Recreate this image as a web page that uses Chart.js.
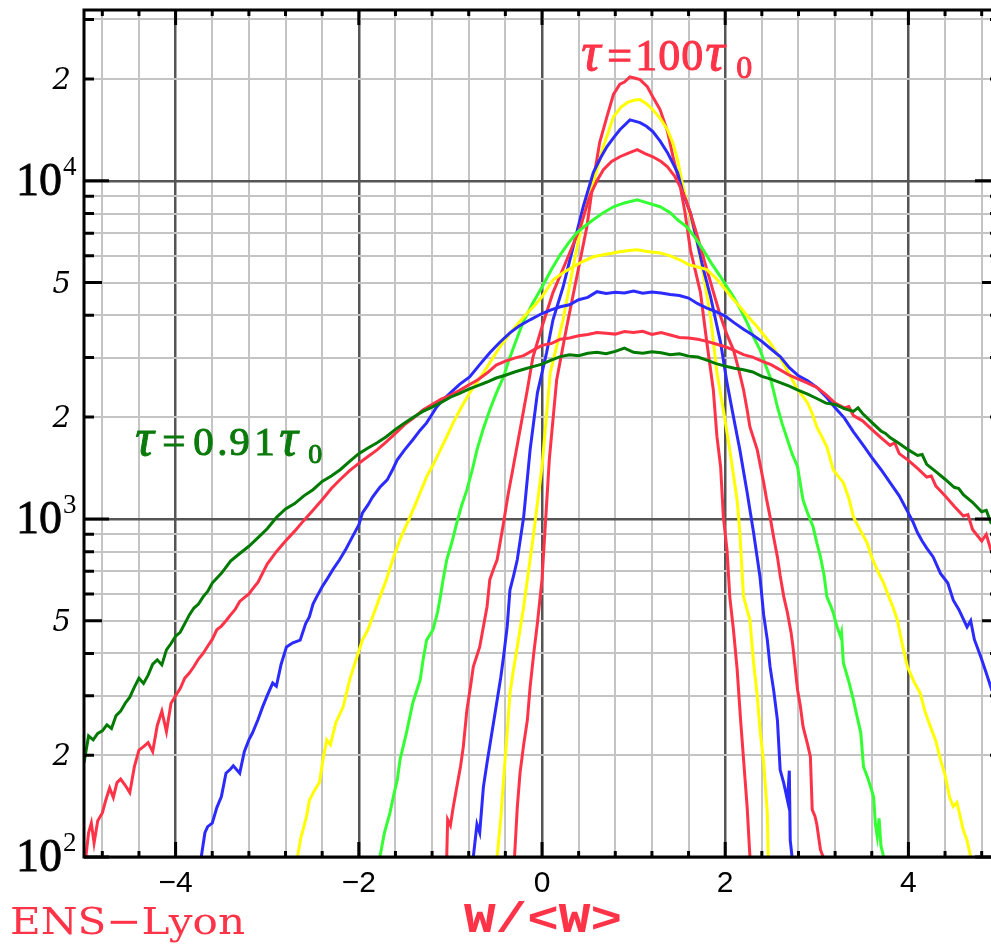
<!DOCTYPE html>
<html>
<head>
<meta charset="utf-8">
<script src="https://cdn.jsdelivr.net/npm/chart.js@4.4.1/dist/chart.umd.min.js"></script>
<style>
    html, body { margin: 0; padding: 0; background: #fff; overflow: hidden; }
    #wrap { width: 1010px; height: 946px; }
</style>
</head>
<body>
<div id="wrap"><canvas id="myChart"></canvas></div>
<script>
// tick labels
var xTickLabels = [-4, -2, 0, 2, 4];
var yDecadeLabels = [100, 1000, 10000];          // 10^2 10^3 10^4
var yDigitLabels = [200, 500, 2000, 5000, 20000]; // "2" / "5"

// histograms of W/<W>, widest (tau = 0.91 tau0) to narrowest (tau = 100 tau0)
var curveGreenDark = [[-5.0,190],[-4.95,228],[-4.9,222],[-4.85,232],[-4.8,236],[-4.75,246],[-4.7,240],[-4.65,262],[-4.6,270],[-4.55,285],[-4.5,297],[-4.45,318],[-4.4,338],[-4.35,326],[-4.3,345],[-4.25,372],[-4.2,383],[-4.15,370],[-4.1,410],[-4.05,428],[-4.0,450],[-3.95,462],[-3.9,490],[-3.85,520],[-3.8,545],[-3.75,560],[-3.7,588],[-3.65,610],[-3.6,646],[-3.5,690],[-3.4,750],[-3.3,790],[-3.2,830],[-3.1,880],[-3.0,935],[-2.9,1010],[-2.8,1070],[-2.7,1110],[-2.6,1170],[-2.5,1220],[-2.4,1290],[-2.3,1340],[-2.2,1400],[-2.1,1480],[-2.0,1560],[-1.9,1620],[-1.8,1680],[-1.7,1750],[-1.6,1840],[-1.5,1920],[-1.4,2000],[-1.3,2080],[-1.2,2140],[-1.1,2210],[-1.0,2290],[-0.9,2350],[-0.8,2420],[-0.7,2480],[-0.6,2540],[-0.5,2610],[-0.4,2660],[-0.3,2720],[-0.2,2770],[-0.1,2820],[0.0,2870],[0.1,2950],[0.2,3020],[0.3,3060],[0.4,3040],[0.5,3090],[0.6,3110],[0.7,3080],[0.8,3130],[0.9,3200],[1.0,3110],[1.1,3090],[1.2,3120],[1.3,3100],[1.4,3060],[1.5,3080],[1.6,3030],[1.7,3010],[1.8,2950],[1.9,2880],[2.0,2830],[2.1,2790],[2.2,2760],[2.3,2720],[2.4,2640],[2.5,2590],[2.6,2530],[2.7,2470],[2.8,2400],[2.9,2340],[3.0,2270],[3.1,2200],[3.2,2180],[3.3,2120],[3.4,2080],[3.45,2130],[3.5,2050],[3.6,1930],[3.7,1820],[3.75,1790],[3.8,1740],[3.9,1670],[4.0,1600],[4.1,1540],[4.15,1550],[4.2,1450],[4.3,1380],[4.4,1310],[4.5,1240],[4.55,1230],[4.6,1180],[4.7,1120],[4.8,1050],[4.85,1060],[4.9,975],[5.0,930]];

var curveRed1 = [[-4.98,100],[-4.95,118],[-4.92,126],[-4.89,110],[-4.85,128],[-4.8,135],[-4.76,148],[-4.72,160],[-4.68,150],[-4.64,166],[-4.6,170],[-4.55,163],[-4.5,155],[-4.45,185],[-4.4,207],[-4.35,212],[-4.3,218],[-4.25,205],[-4.2,245],[-4.15,270],[-4.1,235],[-4.05,285],[-4.0,300],[-3.95,315],[-3.9,338],[-3.85,350],[-3.8,366],[-3.75,385],[-3.7,400],[-3.65,420],[-3.6,440],[-3.55,470],[-3.5,482],[-3.45,500],[-3.4,520],[-3.35,540],[-3.3,570],[-3.25,585],[-3.2,600],[-3.15,625],[-3.1,650],[-3.0,735],[-2.9,800],[-2.8,860],[-2.7,920],[-2.6,990],[-2.5,1060],[-2.4,1140],[-2.3,1230],[-2.2,1310],[-2.1,1390],[-2.0,1460],[-1.9,1530],[-1.8,1600],[-1.7,1690],[-1.6,1790],[-1.5,1900],[-1.4,1990],[-1.3,2100],[-1.2,2180],[-1.1,2260],[-1.0,2320],[-0.9,2400],[-0.8,2490],[-0.7,2580],[-0.6,2700],[-0.5,2850],[-0.4,2930],[-0.3,2990],[-0.2,3040],[-0.1,3150],[0.0,3260],[0.1,3300],[0.2,3400],[0.3,3430],[0.4,3480],[0.5,3510],[0.6,3560],[0.7,3540],[0.8,3520],[0.9,3580],[1.0,3560],[1.1,3590],[1.2,3510],[1.3,3560],[1.4,3500],[1.5,3440],[1.6,3430],[1.7,3400],[1.8,3350],[1.9,3290],[2.0,3230],[2.1,3150],[2.2,3060],[2.3,3010],[2.4,2930],[2.5,2860],[2.6,2760],[2.7,2660],[2.8,2590],[2.9,2520],[3.0,2450],[3.1,2330],[3.2,2200],[3.3,2130],[3.35,2150],[3.4,2020],[3.5,1950],[3.6,1840],[3.7,1740],[3.8,1650],[3.85,1680],[3.9,1560],[4.0,1490],[4.1,1410],[4.2,1330],[4.25,1340],[4.3,1250],[4.4,1170],[4.5,1090],[4.6,1020],[4.65,1030],[4.7,930],[4.8,860],[4.85,900],[4.9,810],[5.0,790]];

var curveBlue1 = [[-3.72,100],[-3.68,118],[-3.65,123],[-3.6,126],[-3.55,140],[-3.5,151],[-3.45,177],[-3.4,182],[-3.37,186],[-3.3,177],[-3.25,205],[-3.2,222],[-3.16,233],[-3.1,255],[-3.05,278],[-3.0,300],[-2.94,327],[-2.9,320],[-2.85,370],[-2.79,418],[-2.72,430],[-2.64,438],[-2.58,490],[-2.54,513],[-2.5,560],[-2.46,588],[-2.4,630],[-2.35,661],[-2.28,710],[-2.21,757],[-2.14,815],[-2.07,885],[-2.0,960],[-1.96,1042],[-1.9,1100],[-1.85,1161],[-1.77,1240],[-1.69,1304],[-1.63,1400],[-1.58,1496],[-1.5,1600],[-1.41,1714],[-1.33,1830],[-1.26,1923],[-1.2,2040],[-1.15,2143],[-1.08,2250],[-1.0,2360],[-0.9,2500],[-0.79,2630],[-0.68,2860],[-0.57,3100],[-0.46,3330],[-0.35,3550],[-0.25,3720],[-0.13,3880],[0.0,4050],[0.1,4150],[0.2,4240],[0.3,4300],[0.4,4450],[0.5,4520],[0.6,4700],[0.7,4640],[0.8,4680],[0.9,4660],[1.0,4720],[1.1,4650],[1.2,4690],[1.3,4660],[1.4,4610],[1.5,4580],[1.6,4500],[1.7,4330],[1.8,4200],[1.9,4100],[2.0,3980],[2.1,3800],[2.2,3640],[2.3,3500],[2.4,3350],[2.5,3180],[2.6,3020],[2.7,2800],[2.8,2650],[2.9,2560],[3.0,2450],[3.1,2300],[3.2,2130],[3.3,1990],[3.4,1810],[3.5,1660],[3.6,1520],[3.7,1400],[3.8,1280],[3.9,1170],[4.0,1040],[4.05,980],[4.1,910],[4.15,860],[4.2,820],[4.27,772],[4.35,690],[4.43,646],[4.49,575],[4.55,540],[4.64,479],[4.68,500],[4.72,440],[4.79,391],[4.85,350],[4.91,312],[5.0,290]];

var curveYellow1 = [[-2.67,100],[-2.63,115],[-2.61,120],[-2.57,132],[-2.54,147],[-2.48,158],[-2.43,166],[-2.39,195],[-2.35,222],[-2.31,215],[-2.25,250],[-2.17,278],[-2.1,334],[-2.02,391],[-1.96,438],[-1.9,470],[-1.85,513],[-1.77,588],[-1.7,660],[-1.63,757],[-1.55,870],[-1.44,1014],[-1.35,1160],[-1.26,1331],[-1.18,1460],[-1.11,1600],[-1.04,1750],[-0.97,1923],[-0.88,2140],[-0.79,2360],[-0.7,2560],[-0.64,2704],[-0.55,2950],[-0.46,3230],[-0.39,3420],[-0.32,3622],[-0.24,3840],[-0.16,4066],[-0.08,4280],[0.0,4540],[0.12,5090],[0.23,5350],[0.34,5570],[0.45,5780],[0.56,5960],[0.7,6060],[0.85,6166],[0.95,6220],[1.04,6250],[1.15,6180],[1.29,6120],[1.4,6000],[1.51,5830],[1.6,5650],[1.7,5560],[1.8,5460],[1.9,5150],[1.98,4850],[2.07,4520],[2.16,4240],[2.25,3960],[2.35,3700],[2.42,3500],[2.49,3320],[2.56,3100],[2.63,2897],[2.71,2650],[2.79,2410],[2.85,2300],[2.9,2202],[2.95,2050],[3.0,1871],[3.05,1760],[3.11,1634],[3.18,1396],[3.23,1340],[3.29,1280],[3.35,1150],[3.4,1014],[3.47,930],[3.55,849],[3.6,770],[3.66,706],[3.73,646],[3.77,604],[3.83,550],[3.88,502],[3.93,430],[3.99,365],[4.06,330],[4.13,305],[4.18,270],[4.24,243],[4.3,220],[4.35,194],[4.4,175],[4.45,150],[4.49,141],[4.53,145],[4.6,120],[4.64,112],[4.68,100]];

var curveGreenLight = [[-1.77,100],[-1.72,118],[-1.66,135],[-1.62,152],[-1.58,169],[-1.55,194],[-1.48,233],[-1.41,286],[-1.33,334],[-1.3,380],[-1.26,438],[-1.19,470],[-1.14,530],[-1.11,588],[-1.08,661],[-1.04,757],[-0.98,860],[-0.93,973],[-0.88,1090],[-0.82,1218],[-0.76,1400],[-0.71,1600],[-0.64,1850],[-0.57,2100],[-0.5,2350],[-0.42,2630],[-0.37,2900],[-0.32,3162],[-0.26,3500],[-0.2,3850],[-0.1,4350],[0.0,4850],[0.1,5450],[0.2,6050],[0.29,6550],[0.38,7020],[0.47,7350],[0.56,7670],[0.67,8050],[0.78,8380],[0.9,8600],[1.04,8790],[1.15,8600],[1.29,8380],[1.4,8050],[1.48,7670],[1.58,7310],[1.67,6800],[1.76,6250],[1.85,5700],[1.95,5200],[2.02,4850],[2.09,4540],[2.17,4150],[2.24,3800],[2.31,3450],[2.38,3162],[2.44,2850],[2.49,2630],[2.53,2380],[2.57,2143],[2.62,1920],[2.68,1714],[2.73,1560],[2.79,1426],[2.82,1270],[2.85,1137],[2.9,1040],[2.96,946],[3.0,850],[3.04,772],[3.08,680],[3.11,588],[3.15,555],[3.18,527],[3.22,480],[3.26,448],[3.27,460],[3.29,375],[3.35,330],[3.4,291],[3.44,260],[3.48,233],[3.51,185],[3.56,170],[3.62,151],[3.64,125],[3.66,115],[3.68,130],[3.7,108],[3.73,100]];

var curveRed2 = [[-1.04,100],[-1.03,129],[-1.0,124],[-0.97,140],[-0.93,161],[-0.89,185],[-0.86,211],[-0.82,272],[-0.78,320],[-0.75,365],[-0.68,418],[-0.64,480],[-0.6,550],[-0.57,661],[-0.53,710],[-0.49,757],[-0.42,973],[-0.37,1180],[-0.32,1396],[-0.24,1832],[-0.16,2410],[-0.1,3000],[0.0,3700],[0.12,4670],[0.27,5830],[0.42,7310],[0.52,9000],[0.6,10000],[0.67,10780],[0.76,11400],[0.85,11780],[0.95,12100],[1.04,12360],[1.12,12050],[1.21,11780],[1.3,11400],[1.37,11000],[1.45,10300],[1.51,9590],[1.57,8800],[1.62,8030],[1.7,6800],[1.8,5460],[1.88,4600],[1.95,3966],[2.02,3500],[2.09,3162],[2.15,2750],[2.2,2410],[2.24,2100],[2.27,1871],[2.35,1600],[2.42,1280],[2.45,1150],[2.49,1014],[2.53,880],[2.57,772],[2.6,680],[2.64,588],[2.68,527],[2.72,460],[2.74,418],[2.79,312],[2.82,280],[2.85,243],[2.9,215],[2.93,198],[2.95,138],[2.98,132],[3.0,125],[3.04,105],[3.07,100]];

var curveBlue2 = [[-0.75,100],[-0.71,125],[-0.68,118],[-0.64,161],[-0.6,190],[-0.56,222],[-0.53,249],[-0.49,291],[-0.45,340],[-0.42,391],[-0.38,480],[-0.35,616],[-0.31,680],[-0.27,757],[-0.2,1014],[-0.13,1600],[-0.05,2360],[0.05,3100],[0.12,3880],[0.23,4850],[0.34,6380],[0.45,8380],[0.56,10570],[0.64,11700],[0.71,12620],[0.78,13400],[0.85,14160],[0.96,15140],[1.07,14860],[1.14,14500],[1.21,13990],[1.29,13100],[1.37,12110],[1.48,10570],[1.54,9200],[1.62,8030],[1.69,6680],[1.76,5500],[1.84,4540],[1.95,3320],[2.02,2525],[2.09,2005],[2.16,1600],[2.24,1194],[2.31,910],[2.38,673],[2.42,520],[2.46,438],[2.49,365],[2.53,310],[2.57,254],[2.6,181],[2.64,165],[2.68,147],[2.7,180],[2.71,112],[2.73,100]];

var curveYellow2 = [[-0.49,100],[-0.45,130],[-0.42,169],[-0.38,233],[-0.35,305],[-0.31,360],[-0.27,418],[-0.2,550],[-0.16,661],[-0.1,867],[0.0,1426],[0.09,2704],[0.23,3880],[0.34,5570],[0.45,7820],[0.56,9860],[0.67,12620],[0.78,15450],[0.86,16500],[0.93,17020],[1.0,17300],[1.07,17380],[1.14,16900],[1.21,16220],[1.29,15300],[1.37,14160],[1.43,12900],[1.48,11530],[1.54,9590],[1.62,7820],[1.69,6600],[1.76,5300],[1.84,3966],[1.91,2704],[1.98,2100],[2.05,1600],[2.13,1137],[2.16,910],[2.2,588],[2.27,502],[2.31,375],[2.35,300],[2.38,238],[2.42,190],[2.46,135],[2.47,100]];

var curveRed3 = [[-0.3,100],[-0.27,140],[-0.24,177],[-0.2,215],[-0.16,254],[-0.13,318],[-0.09,400],[-0.05,492],[0.0,661],[0.08,1500],[0.16,2577],[0.27,3700],[0.38,5200],[0.49,7310],[0.56,10000],[0.63,13000],[0.71,15500],[0.78,18000],[0.85,19300],[0.9,19600],[0.96,20300],[1.02,20100],[1.07,19910],[1.15,18970],[1.22,17500],[1.29,16220],[1.37,13990],[1.43,11780],[1.51,9590],[1.56,8100],[1.62,6250],[1.73,4670],[1.8,3320],[1.87,2410],[1.91,1750],[1.95,1426],[1.98,1014],[2.02,809],[2.05,588],[2.09,470],[2.13,360],[2.17,250],[2.2,195],[2.24,140],[2.27,100]];

var red = '#ff3348';
var blue = '#2b2bff';
var yellow = '#ffff00';
var greenLight = '#33ff33';
var greenDark = '#007a00';

function punti(coppie) {
    var out = [];
    for (var i = 0; i < coppie.length; i++) {
        out.push({ x: coppie[i][0], y: coppie[i][1] });
    }
    return out;
}

function serie(coppie, colore) {
    return {
        data: punti(coppie),
        borderColor: colore,
        borderWidth: 3,
        pointRadius: 0,
        tension: 0,
        fill: false
    };
}

function isMajorX(v) { return Math.abs(v / 2 - Math.round(v / 2)) < 1e-6; }
function isDecade(v) { var l = Math.log10(v); return Math.abs(l - Math.round(l)) < 1e-6; }
function isFive(v) { var l = Math.log10(v / 5); return Math.abs(l - Math.round(l)) < 1e-6; }

function fitText(ctx, text, x, y, w) {
    var m = ctx.measureText(text).width;
    ctx.save();
    ctx.translate(x, y);
    ctx.scale(w / m, 1);
    ctx.fillText(text, 0, 0);
    ctx.restore();
}

// pieces of text drawn one after the other, slightly emboldened
function drawRich(ctx, x0, y0, colore, pezzi) {
    ctx.fillStyle = colore;
    ctx.strokeStyle = colore;
    ctx.lineWidth = 1;
    ctx.textAlign = 'left';
    ctx.textBaseline = 'alphabetic';
    pezzi.forEach(function (p) {
        ctx.font = p.f;
        ctx.fillText(p.t, x0 + p.dx, y0 + (p.dy || 0));
        ctx.strokeText(p.t, x0 + p.dx, y0 + (p.dy || 0));
    });
}

var decor = {
    id: 'decor',
    afterDraw: function (chart) {
        var ctx = chart.ctx;
        var a = chart.chartArea;
        var sx = chart.scales.x;
        var sy = chart.scales.y;
        ctx.save();

        // inward tick marks and frame
        ctx.strokeStyle = '#000';
        ctx.lineWidth = 3;
        ctx.beginPath();
        sx.ticks.forEach(function (t) {
            var p = sx.getPixelForValue(t.value);
            var len = isMajorX(t.value) ? 15 : 6;
            ctx.moveTo(p, a.bottom); ctx.lineTo(p, a.bottom - len);
            ctx.moveTo(p, a.top); ctx.lineTo(p, a.top + len);
        });
        sy.ticks.forEach(function (t) {
            var p = sy.getPixelForValue(t.value);
            var len = isDecade(t.value) ? 25 : (isFive(t.value) ? 18 : 10);
            ctx.moveTo(a.left, p); ctx.lineTo(a.left + len, p);
            ctx.moveTo(a.right, p); ctx.lineTo(a.right - len, p);
        });
        ctx.stroke();
        ctx.strokeRect(a.left, a.top, a.right - a.left, a.bottom - a.top);

        // y labels
        ctx.fillStyle = '#000';
        ctx.strokeStyle = '#000';
        ctx.lineWidth = 0.8;
        ctx.textBaseline = 'alphabetic';
        yDecadeLabels.forEach(function (v) {
            var p = sy.getPixelForValue(v);
            ctx.font = '46px "Liberation Serif"';
            ctx.textAlign = 'right';
            ctx.fillText('10', a.left - 22, p + 14);
            ctx.strokeText('10', a.left - 22, p + 14);
            ctx.font = '27px "Liberation Serif"';
            ctx.textAlign = 'left';
            ctx.fillText(String(Math.round(Math.log10(v))), a.left - 21, p - 6);
        });
        yDigitLabels.forEach(function (v) {
            var p = sy.getPixelForValue(v);
            var cifra = Math.round(v / Math.pow(10, Math.floor(Math.log10(v) + 1e-9)));
            ctx.font = 'italic 29px "DejaVu Serif"';
            ctx.textAlign = 'right';
            ctx.fillText(String(cifra), a.left - 13, p + 10);
        });

        // annotations
        var serif = '"Liberation Serif"';
        var rx = sx.getPixelForValue(0.45), ry = sy.getPixelForValue(21300);
        drawRich(ctx, rx, ry, red, [
            { t: '\u03c4', f: 'italic 54px ' + serif, dx: -2 },
            { t: '=', f: '44px ' + serif, dx: 24 },
            { t: '1', f: '44px ' + serif, dx: 52 },
            { t: '0', f: '44px ' + serif, dx: 75 },
            { t: '0', f: '44px ' + serif, dx: 98 },
            { t: '\u03c4', f: 'italic 54px ' + serif, dx: 122 },
            { t: '0', f: '32px ' + serif, dx: 153, dy: 8 }
        ]);
        var gx = sx.getPixelForValue(-4.42), gy = sy.getPixelForValue(1545);
        drawRich(ctx, gx, gy, '#0a7a0a', [
            { t: '\u03c4', f: 'italic 52px ' + serif, dx: -2 },
            { t: '=', f: '41px ' + serif, dx: 25 },
            { t: '0', f: '41px ' + serif, dx: 56 },
            { t: '.', f: '41px ' + serif, dx: 80 },
            { t: '9', f: '41px ' + serif, dx: 92 },
            { t: '1', f: '41px ' + serif, dx: 117 },
            { t: '\u03c4', f: 'italic 52px ' + serif, dx: 142 },
            { t: '0', f: '28px ' + serif, dx: 171, dy: 8 }
        ]);

        // bottom texts
        ctx.fillStyle = red;
        ctx.textAlign = 'left';
        ctx.font = '38px "DejaVu Serif"';
        fitText(ctx, 'ENS\u2212Lyon', 10, 934, 235);
        ctx.font = 'bold 42px "Liberation Mono"';
        fitText(ctx, 'W/<W>', 464, 932, 158);

        ctx.restore();
    }
};

var ctx = document.getElementById('myChart');
var chart = new Chart(ctx, {
    type: 'line',
    data: {
        datasets: [
            serie(curveGreenDark, greenDark),
            serie(curveRed1, red),
            serie(curveBlue1, blue),
            serie(curveYellow1, yellow),
            serie(curveGreenLight, greenLight),
            serie(curveRed2, red),
            serie(curveBlue2, blue),
            serie(curveYellow2, yellow),
            serie(curveRed3, red)
        ]
    },
    options: {
        responsive: true,
        maintainAspectRatio: false,
        animation: false,
        layout: { padding: { top: 10, right: 10, left: 0, bottom: 0 } },
        plugins: { legend: { display: false }, tooltip: { enabled: false } },
        scales: {
            x: {
                type: 'linear',
                min: -5,
                max: 5,
                afterBuildTicks: function (scale) {
                    var t = [];
                    for (var i = -12; i <= 12; i++) {
                        t.push({ value: Math.round(i * 4) / 10 });
                    }
                    scale.ticks = t;
                },
                afterFit: function (scale) { scale.height = 89; },
                border: { display: false },
                grid: {
                    drawTicks: false,
                    color: function (c) { return isMajorX(c.tick.value) ? '#555555' : '#c4c4c4'; },
                    lineWidth: function (c) { return isMajorX(c.tick.value) ? 2.5 : 2; }
                },
                ticks: {
                    autoSkip: false,
                    maxRotation: 0,
                    minRotation: 0,
                    padding: 9,
                    color: '#000',
                    font: { family: 'Liberation Sans', size: 30 },
                    callback: function (v) {
                        if (!isMajorX(v) || xTickLabels.indexOf(Math.round(v)) < 0) return '';
                        return v < 0 ? '\u2212' + Math.abs(Math.round(v)) : String(Math.round(v));
                    }
                }
            },
            y: {
                type: 'logarithmic',
                min: 100,
                max: 32000,
                afterBuildTicks: function (scale) {
                    var t = [];
                    for (var d = 100; d <= 10000; d *= 10) {
                        for (var m = 1; m <= 9; m++) {
                            if (d * m < 32000) t.push({ value: d * m });
                        }
                    }
                    scale.ticks = t;
                },
                afterFit: function (scale) { scale.width = 84; },
                border: { display: false },
                grid: {
                    drawTicks: false,
                    color: function (c) { return isDecade(c.tick.value) ? '#555555' : '#c4c4c4'; },
                    lineWidth: function (c) { return isDecade(c.tick.value) ? 2.5 : 2; }
                },
                ticks: { display: false }
            }
        }
    },
    plugins: [decor]
});
</script>
</body>
</html>
